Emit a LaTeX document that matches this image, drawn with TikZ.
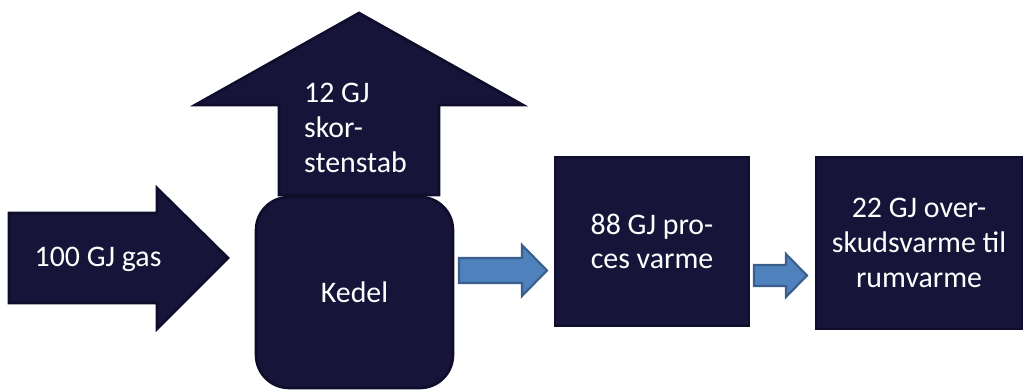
\documentclass[tikz,border=0pt]{standalone}
\usepackage{fontspec}
\setmainfont{Carlito}
\usetikzlibrary{positioning}

\definecolor{navy}{HTML}{161539}
\definecolor{navyline}{HTML}{0E0D2B}
\definecolor{flowblue}{HTML}{4F81BD}
\definecolor{flowline}{HTML}{3A5F8C}

\begin{document}
\begin{tikzpicture}[x=0.02cm, y=-0.02cm,
    darkblock/.style={fill=navy, draw=navyline, line width=1.5pt},
    flowarrow/.style={fill=flowblue, draw=flowline, line width=1.2pt},
    flowtext/.style={text=white, font=\fontsize{17}{19.8}\selectfont, align=center}]
  \useasboundingbox (0,0) rectangle (1030,389);

  % gas going in
  \draw[darkblock] (9,213) -- (157,213) -- (157,188) -- (228,258)
    -- (157,329) -- (157,303) -- (9,303) -- cycle;
  \node[flowtext] (gas) at (98,259) {100 GJ gas};

  % loss through the chimney
  \draw[darkblock] (279,195) -- (279,105) -- (195,105) -- (359,13)
    -- (523,105) -- (439,105) -- (439,195) -- cycle;
  \node[flowtext, align=left, anchor=west] (tab) at (298,128) {12 GJ\\skor-\\stenstab};

  % boiler and the two heat boxes
  \node[darkblock, rounded corners=0.66cm, minimum width=3.94cm, minimum height=3.82cm,
    flowtext] (kedel) at (354.5,292.5) {Kedel};
  \node[darkblock, minimum width=3.88cm, minimum height=3.38cm, flowtext]
    (proces) at (652,241.5) {88 GJ pro-\\ces varme};
  \node[darkblock, minimum width=4.12cm, minimum height=3.44cm, flowtext]
    (rum) at (919,243) {22 GJ over-\\skudsvarme til\\rumvarme};

  % blue flow arrows
  \draw[flowarrow] (459,258) -- (522,258) -- (522,245) -- (547,270.5)
    -- (522,296) -- (522,283) -- (459,283) -- cycle;
  \draw[flowarrow] (754,265) -- (786,265) -- (786,254) -- (807,275.5)
    -- (786,297) -- (786,286) -- (754,286) -- cycle;
\end{tikzpicture}
\end{document}
